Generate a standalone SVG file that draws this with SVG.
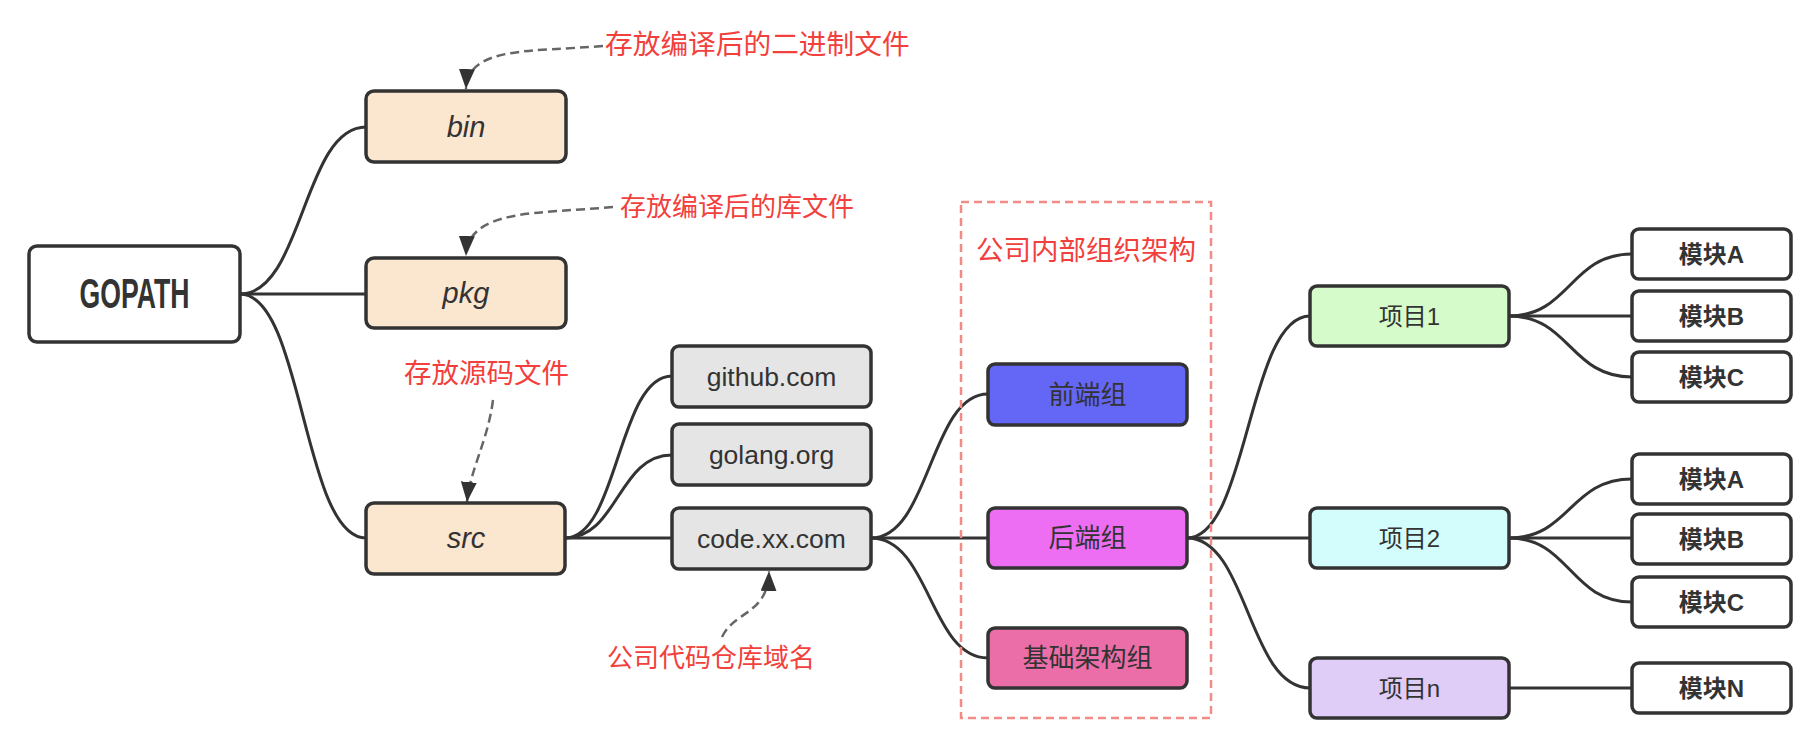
<svg xmlns="http://www.w3.org/2000/svg" width="1820" height="745" viewBox="0 0 1820 745">
<style>
.box{stroke:#333;stroke-width:3.5}
.t{font-family:"Liberation Sans","Noto Sans CJK SC",sans-serif;fill:#333;text-anchor:middle}
.it{font-style:italic;font-size:29px}
.dom{font-size:26.5px}
.grp{font-size:26px}
.prj{font-size:24px}
.mod{font-size:24px;font-weight:bold}
.red{font-family:"Liberation Sans","Noto Sans CJK SC",sans-serif;fill:#F2403C;font-size:26px}
.con{fill:none;stroke:#333;stroke-width:3}
.ann{fill:none;stroke:#666;stroke-width:2.5;stroke-dasharray:9 5}
</style>
<defs>
<marker id="ah" viewBox="0 0 20 16" refX="20" refY="8" markerWidth="20" markerHeight="16" markerUnits="userSpaceOnUse" orient="auto">
<path d="M0,0 L20,8 L0,16 Z" fill="#333"/>
</marker>
</defs>
<rect width="1820" height="745" fill="#fff"/>
<g id="connectors">
<path class="con" d="M240,294 C303,294 303,127 366,127"/>
<path class="con" d="M240,294 L366,294"/>
<path class="con" d="M240,294 C303,294 303,538 366,538"/>
<path class="con" d="M565,538 C618,538 618,376 672,376"/>
<path class="con" d="M565,538 C618,538 618,455 672,455"/>
<path class="con" d="M565,538 L672,538"/>
<path class="con" d="M871,538 C930,538 930,394 988,394"/>
<path class="con" d="M871,538 L988,538"/>
<path class="con" d="M871,538 C930,538 930,658 988,658"/>
<path class="con" d="M1187,538 C1248,538 1248,316 1310,316"/>
<path class="con" d="M1187,538 L1310,538"/>
<path class="con" d="M1187,538 C1248,538 1248,688 1310,688"/>
<path class="con" d="M1509,316 C1570,316 1570,254 1632,254"/>
<path class="con" d="M1509,316 L1632,316"/>
<path class="con" d="M1509,316 C1570,316 1570,377 1632,377"/>
<path class="con" d="M1509,538 C1570,538 1570,479 1632,479"/>
<path class="con" d="M1509,538 L1632,538"/>
<path class="con" d="M1509,538 C1570,538 1570,602 1632,602"/>
<path class="con" d="M1509,688 L1632,688"/>
</g>
<g id="annotations">
<path class="ann" d="M603,46 C530,52 468,46 466,89" marker-end="url(#ah)"/>
<path class="ann" d="M613,207 C540,214 468,208 466,256" marker-end="url(#ah)"/>
<path class="ann" d="M493,400 C488,440 470,470 467,502" marker-end="url(#ah)"/>
<path class="ann" d="M722,637 C735,610 768,615 769,571" marker-end="url(#ah)"/>
<text class="red" x="605" y="54" style="font-size:27.7px">存放编译后的二进制文件</text>
<text class="red" x="620" y="216">存放编译后的库文件</text>
<text class="red" x="404" y="383" style="font-size:27.5px">存放源码文件</text>
<text class="red" x="607" y="667">公司代码仓库域名</text>
</g>
<g id="org-frame">
<rect x="961" y="202" width="250" height="516" fill="none" stroke="#F28A85" stroke-width="2.5" stroke-dasharray="8 5"/>
<text class="red" x="1086" y="260" text-anchor="middle" style="font-size:27.5px">公司内部组织架构</text>
</g>
<g id="gopath"><rect class="box" x="29" y="246" width="211" height="96" rx="8" fill="#fff"/><text class="t" x="134.5" y="308" style="font-size:42px;font-weight:bold" textLength="110" lengthAdjust="spacingAndGlyphs">GOPATH</text></g>
<g id="bin"><rect class="box" x="366" y="91" width="200" height="71" rx="8" fill="#FBE6D0"/><text class="t it" x="466" y="137">bin</text></g>
<g id="pkg"><rect class="box" x="366" y="258" width="200" height="70" rx="8" fill="#FBE6D0"/><text class="t it" x="466" y="303">pkg</text></g>
<g id="src"><rect class="box" x="366" y="503" width="199" height="71" rx="8" fill="#FBE6D0"/><text class="t it" x="466" y="548">src</text></g>
<g id="github"><rect class="box" x="672" y="346" width="199" height="61" rx="7" fill="#E5E5E5"/><text class="t dom" x="771.5" y="386">github.com</text></g>
<g id="golang"><rect class="box" x="672" y="424" width="199" height="61" rx="7" fill="#E5E5E5"/><text class="t dom" x="771.5" y="464">golang.org</text></g>
<g id="codexx"><rect class="box" x="672" y="508" width="199" height="61" rx="7" fill="#E5E5E5"/><text class="t dom" x="771.5" y="548">code.xx.com</text></g>
<g id="frontend"><rect class="box" x="988" y="364" width="199" height="61" rx="7" fill="#6466F5"/><text class="t grp" x="1087.5" y="404">前端组</text></g>
<g id="backend"><rect class="box" x="988" y="508" width="199" height="60" rx="7" fill="#EE6EF3"/><text class="t grp" x="1087.5" y="547">后端组</text></g>
<g id="infra"><rect class="box" x="988" y="628" width="199" height="60" rx="7" fill="#EC6EA9"/><text class="t grp" x="1087.5" y="667">基础架构组</text></g>
<g id="proj1"><rect class="box" x="1310" y="286" width="199" height="60" rx="7" fill="#D6FBCB"/><text class="t prj" x="1409.5" y="325">项目1</text></g>
<g id="proj2"><rect class="box" x="1310" y="508" width="199" height="60" rx="7" fill="#D3FDFD"/><text class="t prj" x="1409.5" y="547">项目2</text></g>
<g id="projn"><rect class="box" x="1310" y="658" width="199" height="60" rx="7" fill="#DFCCF7"/><text class="t prj" x="1409.5" y="697">项目n</text></g>
<g id="m1a"><rect class="box" x="1632" y="229" width="159" height="50" rx="7" fill="#fff"/><text class="t mod" x="1711.5" y="263">模块A</text></g>
<g id="m1b"><rect class="box" x="1632" y="291" width="159" height="50" rx="7" fill="#fff"/><text class="t mod" x="1711.5" y="325">模块B</text></g>
<g id="m1c"><rect class="box" x="1632" y="352" width="159" height="50" rx="7" fill="#fff"/><text class="t mod" x="1711.5" y="386">模块C</text></g>
<g id="m2a"><rect class="box" x="1632" y="454" width="159" height="50" rx="7" fill="#fff"/><text class="t mod" x="1711.5" y="488">模块A</text></g>
<g id="m2b"><rect class="box" x="1632" y="514" width="159" height="50" rx="7" fill="#fff"/><text class="t mod" x="1711.5" y="548">模块B</text></g>
<g id="m2c"><rect class="box" x="1632" y="577" width="159" height="50" rx="7" fill="#fff"/><text class="t mod" x="1711.5" y="611">模块C</text></g>
<g id="mn"><rect class="box" x="1632" y="663" width="159" height="50" rx="7" fill="#fff"/><text class="t mod" x="1711.5" y="697">模块N</text></g>
</svg>
